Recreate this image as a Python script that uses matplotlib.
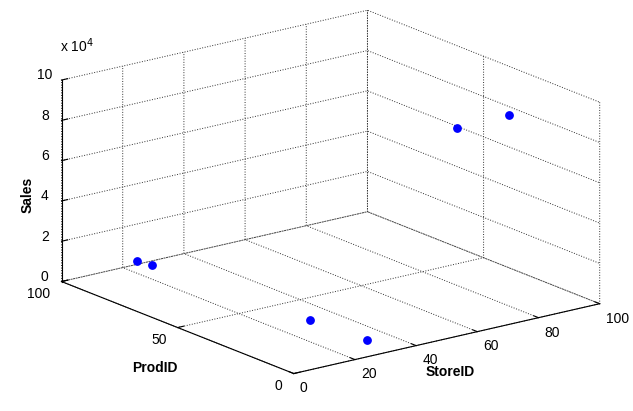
import matplotlib
matplotlib.use("Agg")
import matplotlib.pyplot as plt
from matplotlib.ticker import FuncFormatter, NullFormatter

store_id = [17, 22, 28, 30, 76, 93]
prod_id = [90, 90, 30, 8, 30, 30]
sales = [9000, 5000, 3000, 2500, 82000, 82500]

x_ticks = [0, 20, 40, 60, 80, 100]
y_ticks = [0, 50, 100]
z_ticks = [0, 20000, 40000, 60000, 80000, 100000]

plt.rcParams['font.family'] = ['Liberation Sans', 'DejaVu Sans']
plt.rcParams['font.size'] = 10
plt.rcParams['grid.linestyle'] = ':'
plt.rcParams['grid.color'] = '#303030'
plt.rcParams['grid.linewidth'] = 0.7

W, H = 633, 411
fig = plt.figure(figsize=(W / 100, H / 100), dpi=100)

# square axes centred where the box centre should land
side = 600
cx, cy = 322.5, 211
ax = fig.add_axes([(cx - side / 2) / W, (cy - side / 2) / H, side / W, side / H],
                  projection='3d', proj_type='ortho')
ax.patch.set_visible(False)
ax.view_init(elev=17.5, azim=-127.2)
ax.set_box_aspect((1, 1, 0.55), zoom=0.943)

ax.scatter(store_id, prod_id, sales, color=(0, 0, 1), s=28, depthshade=False)

ax.set_xlim(0, 100)
ax.set_ylim(0, 100)
ax.set_zlim(0, 100000)
ax.set_xticks(x_ticks)
ax.set_yticks(y_ticks)
ax.set_zticks(z_ticks)
ax.zaxis.set_major_formatter(FuncFormatter(lambda v, p: f"{v / 1e4:g}"))
ax.tick_params(axis='x', pad=-2)
ax.tick_params(axis='z', pad=-1)
for t in ax.get_xticklabels():
    t.set_ha('left')
for t in ax.get_zticklabels():
    t.set_va('baseline')

# ProdID tick labels: drawn beside the axis like matlab does
ax.yaxis.set_major_formatter(NullFormatter())
for tick in ax.yaxis.get_major_ticks():
    tick.label1.set_visible(False)
for v in y_ticks:
    ax.text(-3.6, v, -4750, f"{v:g}", ha='right', va='center')

for axis in (ax.xaxis, ax.yaxis, ax.zaxis):
    axis.set_pane_color((1, 1, 1, 0))
    axis.pane.set_edgecolor((1, 1, 1, 0))
    axis.line.set_color('k')
    axis.line.set_linewidth(0.8)
    axis.label.set_visible(False)
    axis._axinfo['tick']['inward_factor'] = 0.0
    axis._axinfo['tick']['outward_factor'] = 0.25
    axis._axinfo['tick']['linewidth'] = {True: 0.8, False: 0.5}
ax.title.set_visible(False)

# axis titles placed as in the original layout
fig.text(450 / W, 1 - 372 / H, 'StoreID', fontweight='bold', ha='center', va='center')
fig.text(155 / W, 1 - 368 / H, 'ProdID', fontweight='bold', ha='center', va='center')
fig.text(28 / W, 1 - 195 / H, 'Sales', fontweight='bold', ha='center', va='center',
         rotation=90)
fig.text(60 / W, 1 - 52 / H, r'x 10$^4$', fontsize=10)

fig.savefig('out.png', dpi=100)
